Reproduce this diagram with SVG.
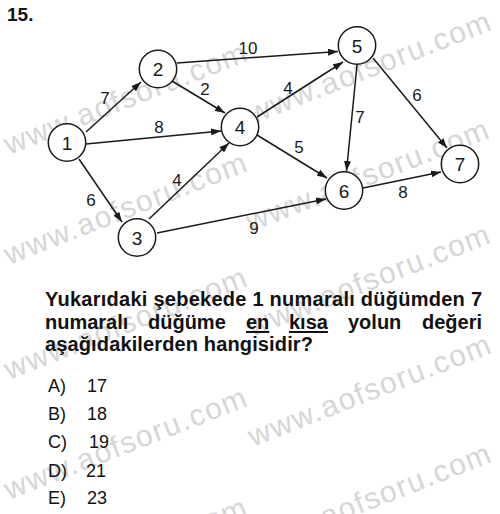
<svg xmlns="http://www.w3.org/2000/svg" xmlns:xlink="http://www.w3.org/1999/xlink" width="500" height="514" viewBox="0 0 500 514">
<style>
.wm{font-family:"Liberation Sans",Arial,sans-serif;font-size:30px;letter-spacing:1.5px;fill:#d6d6d6}
.node circle{fill:#fff;stroke:#1a1a1a;stroke-width:1.5}
.node text{font-family:"Liberation Sans",Arial,sans-serif;font-size:19px;fill:#1a1a1a;text-anchor:middle}
.edge{stroke:#1a1a1a;stroke-width:1.5;fill:none;marker-end:url(#arr)}
.lbl{font-family:"Liberation Sans",Arial,sans-serif;font-size:17px;fill:#1a1a1a;text-anchor:middle}
.q{font-family:"Liberation Sans",Arial,sans-serif;font-size:20px;font-weight:bold;fill:#111}
.ans{font-family:"Liberation Sans",Arial,sans-serif;font-size:18px;fill:#111}
</style>
<defs>
<marker id="arr" markerUnits="userSpaceOnUse" markerWidth="10" markerHeight="7" refX="10" refY="3.5" orient="auto">
<path d="M0,0 L10,3.5 L0,7 z" fill="#1a1a1a"/>
</marker>
</defs>
<rect width="500" height="514" fill="#fff"/>
<g id="watermarks">
<text class="wm" x="9" y="155" transform="rotate(-21.5 9 155)">www.aofsoru.com</text>
<text class="wm" x="9" y="265" transform="rotate(-21.5 9 265)">www.aofsoru.com</text>
<text class="wm" x="9" y="380" transform="rotate(-21.5 9 380)">www.aofsoru.com</text>
<text class="wm" x="9" y="500" transform="rotate(-21.5 9 500)">www.aofsoru.com</text>
<text class="wm" x="9" y="610" transform="rotate(-21.5 9 610)">www.aofsoru.com</text>
<text class="wm" x="253" y="124" transform="rotate(-21.5 253 124)">www.aofsoru.com</text>
<text class="wm" x="251" y="232" transform="rotate(-21.5 251 232)">www.aofsoru.com</text>
<text class="wm" x="252" y="337" transform="rotate(-21.5 252 337)">www.aofsoru.com</text>
<text class="wm" x="253" y="447" transform="rotate(-21.5 253 447)">www.aofsoru.com</text>
<text class="wm" x="253" y="556" transform="rotate(-21.5 253 556)">www.aofsoru.com</text>
</g>
<text x="7" y="21" font-family="Liberation Sans,Arial,sans-serif" font-size="19" font-weight="bold" fill="#111">15.</text>
<g id="connectors">
<line class="edge" x1="86" y1="132" x2="141" y2="82"/>
<line class="edge" x1="86" y1="144" x2="221" y2="131"/>
<line class="edge" x1="79" y1="159" x2="122" y2="222"/>
<line class="edge" x1="177" y1="63" x2="338" y2="51.5"/>
<line class="edge" x1="172" y1="81" x2="225" y2="113"/>
<line class="edge" x1="149" y1="219" x2="229" y2="143"/>
<line class="edge" x1="157" y1="233" x2="326" y2="199"/>
<line class="edge" x1="257" y1="117" x2="343" y2="62"/>
<line class="edge" x1="257" y1="135" x2="327" y2="178"/>
<line class="edge" x1="357" y1="65" x2="346.5" y2="171"/>
<line class="edge" x1="373" y1="58" x2="447" y2="148"/>
<line class="edge" x1="363" y1="188" x2="441" y2="172"/>
<text class="lbl" x="248" y="54">10</text>
<text class="lbl" x="105" y="104">7</text>
<text class="lbl" x="205" y="95">2</text>
<text class="lbl" x="159" y="133">8</text>
<text class="lbl" x="288" y="94">4</text>
<text class="lbl" x="360" y="123">7</text>
<text class="lbl" x="417" y="101">6</text>
<text class="lbl" x="299" y="153">5</text>
<text class="lbl" x="91" y="206">6</text>
<text class="lbl" x="177" y="186">4</text>
<text class="lbl" x="254" y="234">9</text>
<text class="lbl" x="403" y="198">8</text>
</g>
<g id="node1" class="node"><circle cx="67" cy="142.5" r="18.7"/><text x="67" y="149.5">1</text></g>
<g id="node2" class="node"><circle cx="158" cy="69" r="18.7"/><text x="158" y="76">2</text></g>
<g id="node3" class="node"><circle cx="137" cy="237.5" r="18.7"/><text x="137" y="244.5">3</text></g>
<g id="node4" class="node"><circle cx="240" cy="127" r="18.7"/><text x="240" y="134">4</text></g>
<g id="node5" class="node"><circle cx="357" cy="45.5" r="18.7"/><text x="357" y="52.5">5</text></g>
<g id="node6" class="node"><circle cx="344" cy="190.5" r="18.7"/><text x="344" y="197.5">6</text></g>
<g id="node7" class="node"><circle cx="460" cy="164" r="18.7"/><text x="460" y="171">7</text></g>
<g id="question">
<text class="q" x="45" y="306" textLength="437" lengthAdjust="spacing">Yukarıdaki şebekede 1 numaralı düğümden 7</text>
<text class="q" x="45" y="329">numaralı</text>
<text class="q" x="148" y="329">düğüme</text>
<text class="q" x="246" y="329">en</text>
<text class="q" x="289" y="329">kısa</text>
<text class="q" x="348" y="329">yolun</text>
<text class="q" x="422" y="329">değeri</text>
<rect x="246" y="331" width="23.3" height="2" fill="#111"/>
<rect x="289" y="331" width="38.9" height="2" fill="#111"/>
<text class="q" x="45" y="351" textLength="268" lengthAdjust="spacing">aşağıdakilerden hangisidir?</text>
</g>
<g id="answers">
<text class="ans" x="48" y="391.5">A)</text><text class="ans" x="87" y="391.5">17</text>
<text class="ans" x="48" y="420">B)</text><text class="ans" x="87" y="420">18</text>
<text class="ans" x="48" y="448">C)</text><text class="ans" x="89" y="448">19</text>
<text class="ans" x="48" y="476.5">D)</text><text class="ans" x="86" y="476.5">21</text>
<text class="ans" x="48" y="503.5">E)</text><text class="ans" x="87" y="503.5">23</text>
</g>
</svg>
